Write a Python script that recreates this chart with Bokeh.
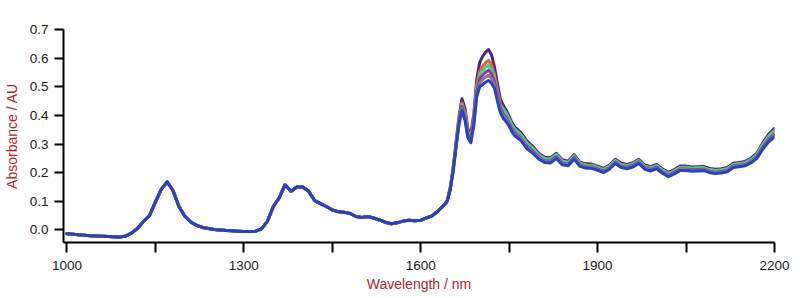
from bokeh.plotting import figure
from bokeh.models import Range1d, FixedTicker, PrintfTickFormatter
from bokeh.embed import file_html
from bokeh.resources import INLINE

# ---------------- data ----------------
# Region where all spectra coincide (1000-1640 nm, 10 nm step)
wl_common = list(range(1000, 1641, 10))
abs_common = [
    -0.013, -0.015, -0.017, -0.018, -0.020, -0.021, -0.022, -0.023, -0.024, -0.025,
    -0.021, -0.010, 0.006, 0.030, 0.050, 0.097, 0.142, 0.168, 0.137, 0.082,
    0.048, 0.028, 0.016, 0.009, 0.005, 0.002, 0.000, -0.002, -0.003, -0.004,
    -0.005, -0.005, -0.004, 0.004, 0.030, 0.082, 0.112, 0.158, 0.135, 0.150,
    0.150, 0.135, 0.103, 0.092, 0.082, 0.070, 0.064, 0.062, 0.058, 0.047,
    0.044, 0.047, 0.042, 0.035, 0.027, 0.022, 0.025, 0.031, 0.034, 0.032,
    0.034, 0.042, 0.050, 0.068, 0.088,
]

# Region where the spectra separate (1645-1760 nm by 5, 1770-2200 nm by 10)
wl_tail = list(range(1645, 1761, 5)) + list(range(1770, 2201, 10))

tail_purple = [
    0.104, 0.148, 0.217, 0.308, 0.398, 0.458, 0.425, 0.354, 0.335, 0.405,
    0.525, 0.585, 0.606, 0.621, 0.630, 0.612, 0.570, 0.512, 0.458, 0.435,
    0.418, 0.397, 0.374, 0.358,
    0.340, 0.311, 0.292, 0.268, 0.254, 0.252, 0.268, 0.245, 0.240, 0.263,
    0.237, 0.231, 0.230, 0.223, 0.215, 0.227, 0.247, 0.233, 0.229, 0.235,
    0.247, 0.227, 0.221, 0.229, 0.213, 0.201, 0.211, 0.223, 0.223, 0.220,
    0.221, 0.222, 0.215, 0.212, 0.214, 0.218, 0.233, 0.236, 0.239, 0.250,
    0.268, 0.304, 0.334, 0.355,
]
tail_orange = [
    0.103, 0.145, 0.213, 0.302, 0.388, 0.444, 0.411, 0.343, 0.325, 0.391,
    0.504, 0.555, 0.572, 0.584, 0.592, 0.577, 0.544, 0.491, 0.441, 0.419,
    0.404, 0.385, 0.363, 0.348,
    0.330, 0.302, 0.284, 0.261, 0.248, 0.246, 0.262, 0.239, 0.234, 0.258,
    0.232, 0.226, 0.225, 0.218, 0.210, 0.222, 0.242, 0.228, 0.224, 0.230,
    0.242, 0.222, 0.216, 0.224, 0.208, 0.196, 0.206, 0.218, 0.218, 0.215,
    0.216, 0.217, 0.210, 0.207, 0.209, 0.213, 0.228, 0.231, 0.234, 0.244,
    0.262, 0.296, 0.325, 0.345,
]
tail_green = [
    0.102, 0.144, 0.211, 0.299, 0.384, 0.438, 0.405, 0.338, 0.320, 0.385,
    0.495, 0.543, 0.557, 0.569, 0.576, 0.562, 0.533, 0.482, 0.434, 0.424,
    0.408, 0.388, 0.366, 0.351,
    0.333, 0.304, 0.286, 0.263, 0.250, 0.248, 0.264, 0.241, 0.236, 0.259,
    0.233, 0.227, 0.226, 0.219, 0.211, 0.223, 0.243, 0.229, 0.225, 0.231,
    0.243, 0.223, 0.217, 0.225, 0.209, 0.197, 0.207, 0.219, 0.219, 0.216,
    0.217, 0.218, 0.211, 0.208, 0.210, 0.214, 0.229, 0.232, 0.235, 0.246,
    0.264, 0.299, 0.328, 0.348,
]
tail_magenta = [
    0.101, 0.143, 0.209, 0.296, 0.379, 0.431, 0.398, 0.333, 0.315, 0.378,
    0.485, 0.528, 0.540, 0.551, 0.558, 0.545, 0.520, 0.472, 0.426, 0.405,
    0.391, 0.374, 0.353, 0.338,
    0.321, 0.293, 0.276, 0.255, 0.242, 0.240, 0.256, 0.234, 0.229, 0.253,
    0.227, 0.221, 0.220, 0.213, 0.205, 0.217, 0.237, 0.223, 0.219, 0.225,
    0.237, 0.217, 0.211, 0.219, 0.203, 0.191, 0.201, 0.213, 0.213, 0.210,
    0.211, 0.212, 0.205, 0.202, 0.204, 0.208, 0.223, 0.226, 0.229, 0.239,
    0.256, 0.289, 0.317, 0.335,
]
tail_grey = [
    0.101, 0.141, 0.207, 0.293, 0.375, 0.425, 0.392, 0.327, 0.310, 0.372,
    0.475, 0.514, 0.525, 0.534, 0.540, 0.529, 0.508, 0.462, 0.418, 0.398,
    0.385, 0.368, 0.347, 0.333,
    0.317, 0.289, 0.272, 0.251, 0.239, 0.237, 0.253, 0.231, 0.227, 0.251,
    0.225, 0.219, 0.218, 0.211, 0.203, 0.215, 0.235, 0.221, 0.217, 0.223,
    0.235, 0.215, 0.209, 0.217, 0.201, 0.189, 0.199, 0.211, 0.211, 0.208,
    0.209, 0.210, 0.203, 0.200, 0.202, 0.206, 0.221, 0.224, 0.227, 0.237,
    0.253, 0.286, 0.312, 0.330,
]
tail_blue = [
    0.100, 0.140, 0.205, 0.290, 0.370, 0.418, 0.385, 0.322, 0.305, 0.365,
    0.465, 0.500, 0.508, 0.516, 0.522, 0.512, 0.495, 0.452, 0.410, 0.390,
    0.378, 0.362, 0.342, 0.328,
    0.312, 0.284, 0.268, 0.248, 0.236, 0.234, 0.250, 0.228, 0.224, 0.248,
    0.222, 0.216, 0.215, 0.208, 0.200, 0.212, 0.232, 0.218, 0.214, 0.220,
    0.232, 0.212, 0.206, 0.214, 0.198, 0.186, 0.196, 0.208, 0.208, 0.205,
    0.206, 0.207, 0.200, 0.197, 0.199, 0.203, 0.218, 0.221, 0.224, 0.234,
    0.250, 0.282, 0.308, 0.325,
]

series_tails = [tail_purple, tail_orange, tail_green, tail_magenta, tail_grey, tail_blue]
series_colors = ["#4e1f8c", "#f0602a", "#3fcf86", "#a52aa0", "#8a7686", "#2843c2"]

x_ticks = [1000, 1300, 1600, 1900, 2200]
x_minor = [1150, 1450, 1750, 2050]
y_ticks = [0.0, 0.1, 0.2, 0.3, 0.4, 0.5, 0.6, 0.7]

# ---------------- figure ----------------
p = figure(frame_width=711, frame_height=213, output_backend="svg",
           toolbar_location=None,
           x_range=Range1d(994.2, 2200), y_range=Range1d(-0.0437, 0.7),
           min_border_left=62, min_border_right=27, min_border_top=29,
           min_border_bottom=56)
p.outline_line_color = None
p.xgrid.visible = False
p.ygrid.visible = False
p.background_fill_color = "white"
p.border_fill_color = "white"

wl_all = wl_common + wl_tail
for tail, col in zip(series_tails, series_colors):
    p.line(wl_all, abs_common + tail, line_color=col, line_width=3,
           line_join="round", line_cap="round")

font = "Liberation Sans"
title_color = "#a8262c"

xa = p.xaxis[0]
xa.ticker = FixedTicker(ticks=x_ticks, minor_ticks=x_minor)
xa.axis_label = "Wavelength / nm"
ya = p.yaxis[0]
ya.ticker = FixedTicker(ticks=y_ticks)
ya.formatter = PrintfTickFormatter(format="%.1f")
ya.axis_label = "Absorbance / AU"

for ax in (xa, ya):
    ax.axis_line_width = 2
    ax.axis_line_color = "black"
    ax.major_tick_line_width = 2
    ax.major_tick_line_color = "black"
    ax.major_tick_in = 0
    ax.major_tick_out = 10
    ax.minor_tick_line_width = 2
    ax.minor_tick_line_color = "black"
    ax.minor_tick_in = 0
    ax.minor_tick_out = 10
    ax.major_label_text_font = font
    ax.major_label_text_font_size = "13.5px"
    ax.major_label_text_color = "#1a1a1a"
    ax.axis_label_text_font = font
    ax.axis_label_text_font_size = "14px"
    ax.axis_label_text_font_style = "normal"
    ax.axis_label_text_color = title_color

ya.minor_tick_line_color = None
ya.major_tick_out = 9
xa.major_label_standoff = 8
xa.axis_label_standoff = 3
ya.major_label_standoff = 6
ya.axis_label_standoff = 7

open("out.html", "w").write(file_html(p, INLINE))
